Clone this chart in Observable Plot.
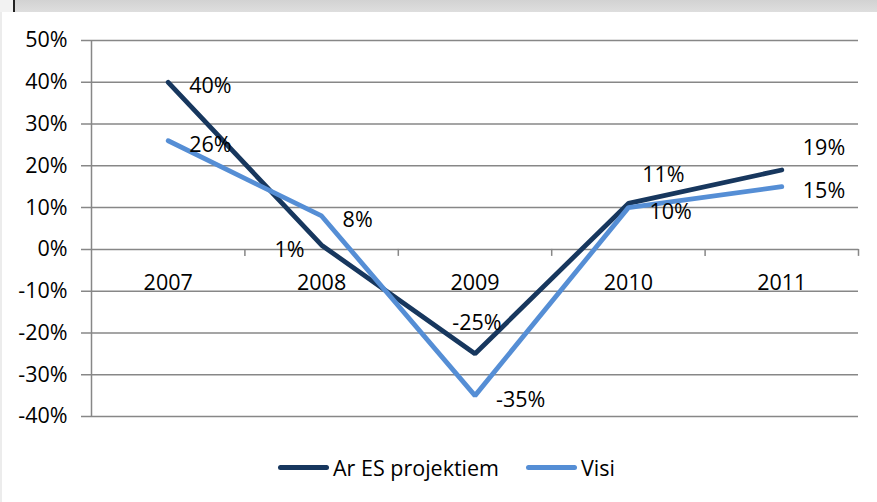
<!DOCTYPE html>
<html>
<head>
<meta charset="utf-8">
<script src="https://cdn.jsdelivr.net/npm/d3@7"></script>
<script src="https://cdn.jsdelivr.net/npm/@observablehq/plot@0.6"></script>
<style>
  html, body { margin: 0; padding: 0; background: #fff; }
  body { width: 877px; height: 502px; overflow: hidden; position: relative; font-family: "Open Sans", sans-serif; }
  #topbar { position: absolute; left: 0; top: 0; width: 877px; height: 12px;
    background: linear-gradient(#d2d2d2, #dedede); }
  #topbar .corner { position: absolute; left: 0; top: 0; width: 13px; height: 12px; background: #f2f2f2; }
  #topbar .vline { position: absolute; left: 13px; top: 0; width: 1.5px; height: 12px; background: #222; }
  #leftedge { position: absolute; left: 0; top: 12px; width: 2px; height: 490px; background: #ececec; }
  #chart { position: absolute; left: 0; top: 12px; }
  #legend { position: absolute; left: 0; top: 452px; width: 877px; height: 30px;
    display: flex; align-items: center; font-size: 21.5px; color: #000; }
  .item { display: flex; align-items: center; }
  .sw { width: 51px; height: 5px; border-radius: 3px; margin-right: 4px; }
</style>
</head>
<body>
<div id="topbar"><div class="corner"></div><div class="vline"></div></div>
<div id="leftedge"></div>
<div id="chart"></div>
<div id="legend"></div>
<script>
// ---- data ----
const years = [2007, 2008, 2009, 2010, 2011];
const seriesNames = ["Ar ES projektiem", "Visi"];
const arESProjektiem = [40, 1, -25, 11, 19];
const visi = [26, 8, -35, 10, 15];
const yTicks = [-40, -30, -20, -10, 0, 10, 20, 30, 40, 50];
const colors = ["#17375E", "#558ED5"];
// label placement keywords per point (styling, not data)
const placeAr = ["right", "left", "above", "aboveRight", "aboveRight2"];
const placeVisi = ["right", "right", "right", "right", "right"];

const placements = {
  right:       {dx: 21, dy: 4, textAnchor: "start"},
  left:        {dx: -17, dy: 5, textAnchor: "end"},
  above:       {dx: 2, dy: -31, textAnchor: "middle"},
  aboveRight:  {dx: 35, dy: -28, textAnchor: "middle"},
  aboveRight2: {dx: 21, dy: -22, textAnchor: "start"}
};

const rows = [];
years.forEach((yr, i) => {
  rows.push({year: yr, value: arESProjektiem[i], series: seriesNames[0], place: placeAr[i]});
  rows.push({year: yr, value: visi[i], series: seriesNames[1], place: placeVisi[i]});
});

const boundaries = years.map(y => y + 0.5);
const gridColor = "#878787";
const font = "Open Sans, sans-serif";
const fs = 21.5;

const labelMarks = Object.entries(placements).map(([key, p]) =>
  Plot.text(rows.filter(d => d.place === key), {
    x: "year", y: "value", text: d => d.value + "%",
    dx: p.dx, dy: p.dy, textAnchor: p.textAnchor,
    fill: "#000", fontSize: fs
  })
);

const chart = Plot.plot({
  width: 877,
  height: 430,
  marginLeft: 91,
  marginRight: 19,
  marginTop: 28,
  marginBottom: 26,
  style: {fontFamily: font, fontSize: fs + "px", color: "#000", background: "transparent"},
  x: {type: "linear", domain: [years[0] - 0.5, years[years.length - 1] + 0.5], axis: null},
  y: {domain: [yTicks[0], yTicks[yTicks.length - 1]], axis: null},
  color: {domain: seriesNames, range: colors},
  marks: [
    Plot.ruleY(yTicks, {stroke: gridColor, strokeWidth: 1.5, insetLeft: -10}),
    Plot.ruleX([years[0] - 0.5], {y1: yTicks[0], y2: yTicks[yTicks.length - 1], stroke: gridColor, strokeWidth: 1.5}),
    Plot.ruleX(boundaries, {y1: 0, y2: 0, insetBottom: -7, stroke: gridColor, strokeWidth: 1.5}),
    Plot.text(yTicks, {x: years[0] - 0.5, y: d => d, text: d => d + "%", textAnchor: "end", dx: -24, fill: "#000", fontSize: fs}),
    Plot.text(years, {x: d => d, y: 0, text: d => String(d), dy: 34, fill: "#000", fontSize: fs}),
    Plot.line(rows, {x: "year", y: "value", z: "series", stroke: "series", strokeWidth: 4.8, strokeLinecap: "round", strokeLinejoin: "miter"}),
    ...labelMarks
  ]
});
document.getElementById("chart").appendChild(chart);

// legend
const legend = document.getElementById("legend");
legend.style.paddingLeft = "278px";
seriesNames.forEach((name, i) => {
  const item = document.createElement("div");
  item.className = "item";
  if (i > 0) item.style.marginLeft = "27px";
  const sw = document.createElement("div");
  sw.className = "sw";
  sw.style.background = colors[i];
  const t = document.createElement("span");
  t.textContent = name;
  item.appendChild(sw);
  item.appendChild(t);
  legend.appendChild(item);
});
</script>
</body>
</html>
